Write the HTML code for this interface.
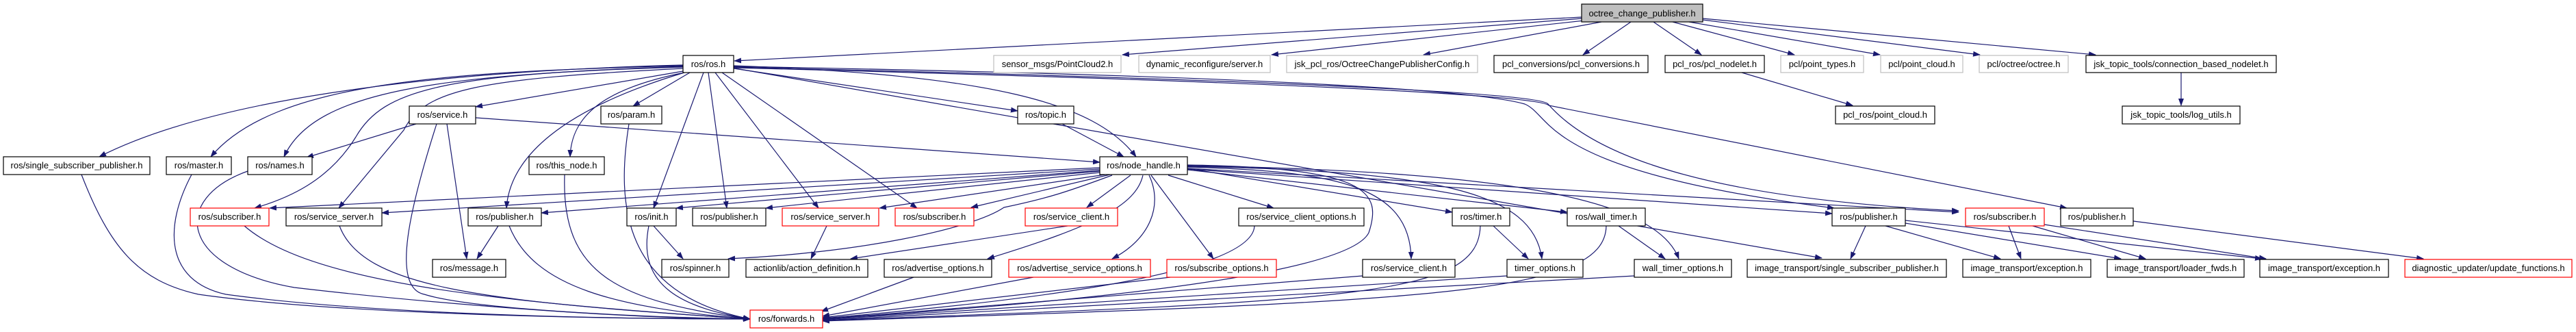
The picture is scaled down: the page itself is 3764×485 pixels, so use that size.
<!DOCTYPE html>
<html><head><meta charset="utf-8"><style>
html,body{margin:0;padding:0;background:#fff;width:3764px;height:485px;overflow:hidden}
svg{display:block}
text{font-family:"Liberation Sans",sans-serif;font-size:13px;text-anchor:middle;fill:#000}
.e{fill:none;stroke:#191970;stroke-width:1.2;marker-end:url(#a)}
.n{fill:#fff;stroke:#000;stroke-width:1.2}
.g{fill:#fff;stroke:#bfbfbf;stroke-width:1.2}
.r{fill:#fff;stroke:#ff0000;stroke-width:1.2}
</style></head><body>
<svg width="3764" height="485" viewBox="0 0 3764 485">
<defs><marker id="a" markerUnits="userSpaceOnUse" markerWidth="11" markerHeight="8" refX="10" refY="4" orient="auto"><path d="M0,0 L11,4 L0,8 z" fill="#191970"/></marker></defs>

<!-- octree edges -->
<path class="e" d="M2311,25 L1073,89"/>
<path class="e" d="M2311,27 L1640,80"/>
<path class="e" d="M2315,30 L1858,80"/>
<path class="e" d="M2340,32 L2080,80"/>
<path class="e" d="M2383,32 L2313,80"/>
<path class="e" d="M2416,32 L2486,80"/>
<path class="e" d="M2444,32 L2622,80"/>
<path class="e" d="M2468,32 L2747,80"/>
<path class="e" d="M2488,29 L2893,80"/>
<path class="e" d="M2488,27 L3062,80"/>
<path class="e" d="M3187,106 L3187,154"/>
<path class="e" d="M2545,106 L2707,154"/>

<!-- ros.h edges -->
<path class="e" d="M998,95 C600,105 300,150 145,229"/>
<path class="e" d="M998,96 C650,105 400,120 308,229"/>
<path class="e" d="M998,97 C650,110 460,130 415,229"/>
<path class="e" d="M998,98 C650,108 560,130 520,200 C480,265 420,290 372,304"/>
<path class="e" d="M998,100 C700,115 620,130 590,190 L495,304"/>
<path class="e" d="M998,104 L695,156"/>
<path class="e" d="M1008,106 L925,155"/>
<path class="e" d="M1000,106 C880,130 835,170 833,229"/>
<path class="e" d="M1000,106 C820,160 745,230 740,304"/>
<path class="e" d="M1028,106 L955,304"/>
<path class="e" d="M1035,106 L1062,304"/>
<path class="e" d="M1045,106 L1196,304"/>
<path class="e" d="M1055,106 L1340,304"/>
<path class="e" d="M1072,100 L1487,162"/>
<path class="e" d="M1072,96 C1450,110 1600,150 1660,229"/>
<path class="e" d="M1072,97 C1800,110 2150,130 2228,152 C2270,170 2250,250 2680,304"/>
<path class="e" d="M1072,98 C1800,115 2250,135 2262,152 C2330,230 2500,290 2862,308"/>
<path class="e" d="M1072,99 C1900,120 2250,140 2263,154 L3020,304"/>
<path class="e" d="M1075,100 L2662,377"/>

<!-- service.h -->
<path class="e" d="M695,172 L1607,237"/>
<path class="e" d="M608,181 L448,230"/>
<path class="e" d="M653,181 L682,378"/>
<path class="e" d="M638,181 C600,300 570,420 620,430 C700,455 1000,465 1096,466"/>
<path class="e" d="M1552,181 L1642,229"/>

<!-- node_handle edges -->
<path class="e" d="M1607,245 L394,304"/>
<path class="e" d="M1607,247 L558,311"/>
<path class="e" d="M1607,249 L791,311"/>
<path class="e" d="M1607,250 L988,304"/>
<path class="e" d="M1607,252 L1119,304"/>
<path class="e" d="M1615,255 L1285,304"/>
<path class="e" d="M1622,255 L1419,303"/>
<path class="e" d="M1652,256 L1588,303"/>
<path class="e" d="M1625,256 C1560,280 1530,290 1467,303 C1420,335 1250,370 1064,378"/>
<path class="e" d="M1670,256 C1660,300 1600,330 1443,378"/>
<path class="e" d="M1679,256 C1700,300 1680,350 1625,378"/>
<path class="e" d="M1682,256 L1773,378"/>
<path class="e" d="M1707,256 L1861,304"/>
<path class="e" d="M1735,246 L2122,310"/>
<path class="e" d="M1735,248 L2290,310"/>
<path class="e" d="M1735,244 C1950,250 2060,270 2062,378"/>
<path class="e" d="M1735,243 C2100,250 2240,280 2253,378"/>
<path class="e" d="M1735,242 C2200,250 2420,290 2453,378"/>
<path class="e" d="M1735,241 C2000,245 2020,280 2000,340 C1970,400 1600,440 1202,466"/>
<path class="e" d="M1735,247 L2677,312"/>
<path class="e" d="M1735,246 L2862,310"/>

<!-- misc -->
<path class="e" d="M955,330 L998,378"/>
<path class="e" d="M1208,330 L1185,378"/>
<path class="e" d="M1560,330 L1243,378"/>
<path class="e" d="M2182,330 L2233,378"/>
<path class="e" d="M2365,330 L2433,378"/>
<path class="e" d="M728,330 L697,378"/>
<path class="e" d="M2726,330 L2704,378"/>
<path class="e" d="M2755,330 L2923,378"/>
<path class="e" d="M2784,326 L3099,378"/>
<path class="e" d="M2784,322 L3305,378"/>
<path class="e" d="M2935,330 L2953,378"/>
<path class="e" d="M2970,330 L3135,378"/>
<path class="e" d="M2987,328 L3311,378"/>
<path class="e" d="M3117,323 L3541,378"/>

<!-- to forwards -->
<path class="e" d="M119,255 C160,360 200,410 290,430 C500,460 900,466 1096,466"/>
<path class="e" d="M280,255 C240,330 240,410 330,430 C550,460 900,466 1096,466"/>
<path class="e" d="M362,250 C250,290 260,390 430,420 C600,440 900,466 1096,466"/>
<path class="e" d="M357,330 C450,410 700,440 1096,466"/>
<path class="e" d="M496,330 C530,420 700,440 1096,466"/>
<path class="e" d="M744,330 C780,420 900,450 1096,466"/>
<path class="e" d="M825,255 C820,400 900,440 1096,466"/>
<path class="e" d="M919,181 C900,300 910,430 1096,466"/>
<path class="e" d="M948,330 C930,420 1000,450 1096,466"/>
<path class="e" d="M1335,405 L1200,455"/>
<path class="e" d="M1510,405 L1202,462"/>
<path class="e" d="M1710,405 L1202,464"/>
<path class="e" d="M1833,330 C1830,400 1500,440 1202,465"/>
<path class="e" d="M1991,403 L1202,466"/>
<path class="e" d="M2202,403 L1202,467"/>
<path class="e" d="M2163,330 C2160,430 2000,440 1202,468"/>
<path class="e" d="M2388,403 L1202,468"/>
<path class="e" d="M2347,330 C2345,430 2100,440 1202,469"/>

<!-- nodes -->
<rect x="2311" y="6" width="177" height="26" fill="#bfbfbf" stroke="#000" stroke-width="1.2"/><text x="2399.5" y="24">octree_change_publisher.h</text>

<rect class="n" x="998" y="81" width="74" height="25"/><text x="1035" y="98">ros/ros.h</text>
<rect class="g" x="1452" y="81" width="186" height="25"/><text x="1545" y="98">sensor_msgs/PointCloud2.h</text>
<rect class="g" x="1664" y="81" width="192" height="25"/><text x="1760" y="98">dynamic_reconfigure/server.h</text>
<rect class="g" x="1880" y="81" width="279" height="25"/><text x="2019.5" y="98">jsk_pcl_ros/OctreeChangePublisherConfig.h</text>
<rect class="n" x="2183" y="81" width="225" height="25"/><text x="2295.5" y="98">pcl_conversions/pcl_conversions.h</text>
<rect class="n" x="2433" y="81" width="145" height="25"/><text x="2505.5" y="98">pcl_ros/pcl_nodelet.h</text>
<rect class="g" x="2602" y="81" width="121" height="25"/><text x="2662.5" y="98">pcl/point_types.h</text>
<rect class="g" x="2748" y="81" width="120" height="25"/><text x="2808" y="98">pcl/point_cloud.h</text>
<rect class="g" x="2892" y="81" width="130" height="25"/><text x="2957" y="98">pcl/octree/octree.h</text>
<rect class="n" x="3048" y="81" width="278" height="25"/><text x="3187" y="98">jsk_topic_tools/connection_based_nodelet.h</text>

<rect class="n" x="598" y="155" width="97" height="26"/><text x="646.5" y="172">ros/service.h</text>
<rect class="n" x="878" y="155" width="89" height="26"/><text x="922.5" y="172">ros/param.h</text>
<rect class="n" x="1487" y="155" width="82" height="26"/><text x="1528" y="172">ros/topic.h</text>
<rect class="n" x="2682" y="155" width="145" height="26"/><text x="2754.5" y="172">pcl_ros/point_cloud.h</text>
<rect class="n" x="3101" y="155" width="172" height="26"/><text x="3187" y="172">jsk_topic_tools/log_utils.h</text>

<rect class="n" x="5" y="229" width="214" height="26"/><text x="112" y="246">ros/single_subscriber_publisher.h</text>
<rect class="n" x="243" y="229" width="95" height="26"/><text x="290.5" y="246">ros/master.h</text>
<rect class="n" x="362" y="229" width="94" height="26"/><text x="409" y="246">ros/names.h</text>
<rect class="n" x="773" y="229" width="110" height="26"/><text x="828" y="246">ros/this_node.h</text>
<rect class="n" x="1607" y="229" width="128" height="26"/><text x="1671" y="246">ros/node_handle.h</text>

<rect class="r" x="278" y="304" width="115" height="26"/><text x="335.5" y="321">ros/subscriber.h</text>
<rect class="n" x="418" y="304" width="140" height="26"/><text x="488" y="321">ros/service_server.h</text>
<rect class="n" x="684" y="304" width="107" height="26"/><text x="737.5" y="321">ros/publisher.h</text>
<rect class="n" x="916" y="304" width="72" height="26"/><text x="952" y="321">ros/init.h</text>
<rect class="n" x="1012" y="304" width="107" height="26"/><text x="1065.5" y="321">ros/publisher.h</text>
<rect class="r" x="1143" y="304" width="141" height="26"/><text x="1213.5" y="321">ros/service_server.h</text>
<rect class="r" x="1308" y="304" width="115" height="26"/><text x="1365.5" y="321">ros/subscriber.h</text>
<rect class="r" x="1498" y="304" width="135" height="26"/><text x="1565.5" y="321">ros/service_client.h</text>
<rect class="n" x="1810" y="304" width="183" height="26"/><text x="1901.5" y="321">ros/service_client_options.h</text>
<rect class="n" x="2122" y="304" width="84" height="26"/><text x="2164" y="321">ros/timer.h</text>
<rect class="n" x="2290" y="304" width="114" height="26"/><text x="2347" y="321">ros/wall_timer.h</text>
<rect class="n" x="2677" y="304" width="107" height="26"/><text x="2730.5" y="321">ros/publisher.h</text>
<rect class="r" x="2872" y="304" width="115" height="26"/><text x="2929.5" y="321">ros/subscriber.h</text>
<rect class="n" x="3011" y="304" width="106" height="26"/><text x="3064" y="321">ros/publisher.h</text>

<rect class="n" x="632" y="379" width="107" height="26"/><text x="685.5" y="396">ros/message.h</text>
<rect class="n" x="967" y="379" width="98" height="26"/><text x="1016" y="396">ros/spinner.h</text>
<rect class="n" x="1090" y="379" width="178" height="26"/><text x="1179" y="396">actionlib/action_definition.h</text>
<rect class="n" x="1292" y="379" width="157" height="26"/><text x="1370.5" y="396">ros/advertise_options.h</text>
<rect class="r" x="1474" y="379" width="207" height="26"/><text x="1577.5" y="396">ros/advertise_service_options.h</text>
<rect class="r" x="1705" y="379" width="160" height="26"/><text x="1785" y="396">ros/subscribe_options.h</text>
<rect class="n" x="1991" y="379" width="135" height="26"/><text x="2058.5" y="396">ros/service_client.h</text>
<rect class="n" x="2202" y="379" width="111" height="26"/><text x="2257.5" y="396">timer_options.h</text>
<rect class="n" x="2388" y="379" width="142" height="26"/><text x="2459" y="396">wall_timer_options.h</text>
<rect class="n" x="2553" y="379" width="291" height="26"/><text x="2698.5" y="396">image_transport/single_subscriber_publisher.h</text>
<rect class="n" x="2868" y="379" width="187" height="26"/><text x="2961.5" y="396">image_transport/exception.h</text>
<rect class="n" x="3079" y="379" width="200" height="26"/><text x="3179" y="396">image_transport/loader_fwds.h</text>
<rect class="n" x="3302" y="379" width="188" height="26"/><text x="3396" y="396">image_transport/exception.h</text>
<rect class="r" x="3514" y="379" width="244" height="26"/><text x="3636" y="396">diagnostic_updater/update_functions.h</text>

<rect class="r" x="1096" y="453" width="106" height="26"/><text x="1149" y="470">ros/forwards.h</text>
</svg>
</body></html>
